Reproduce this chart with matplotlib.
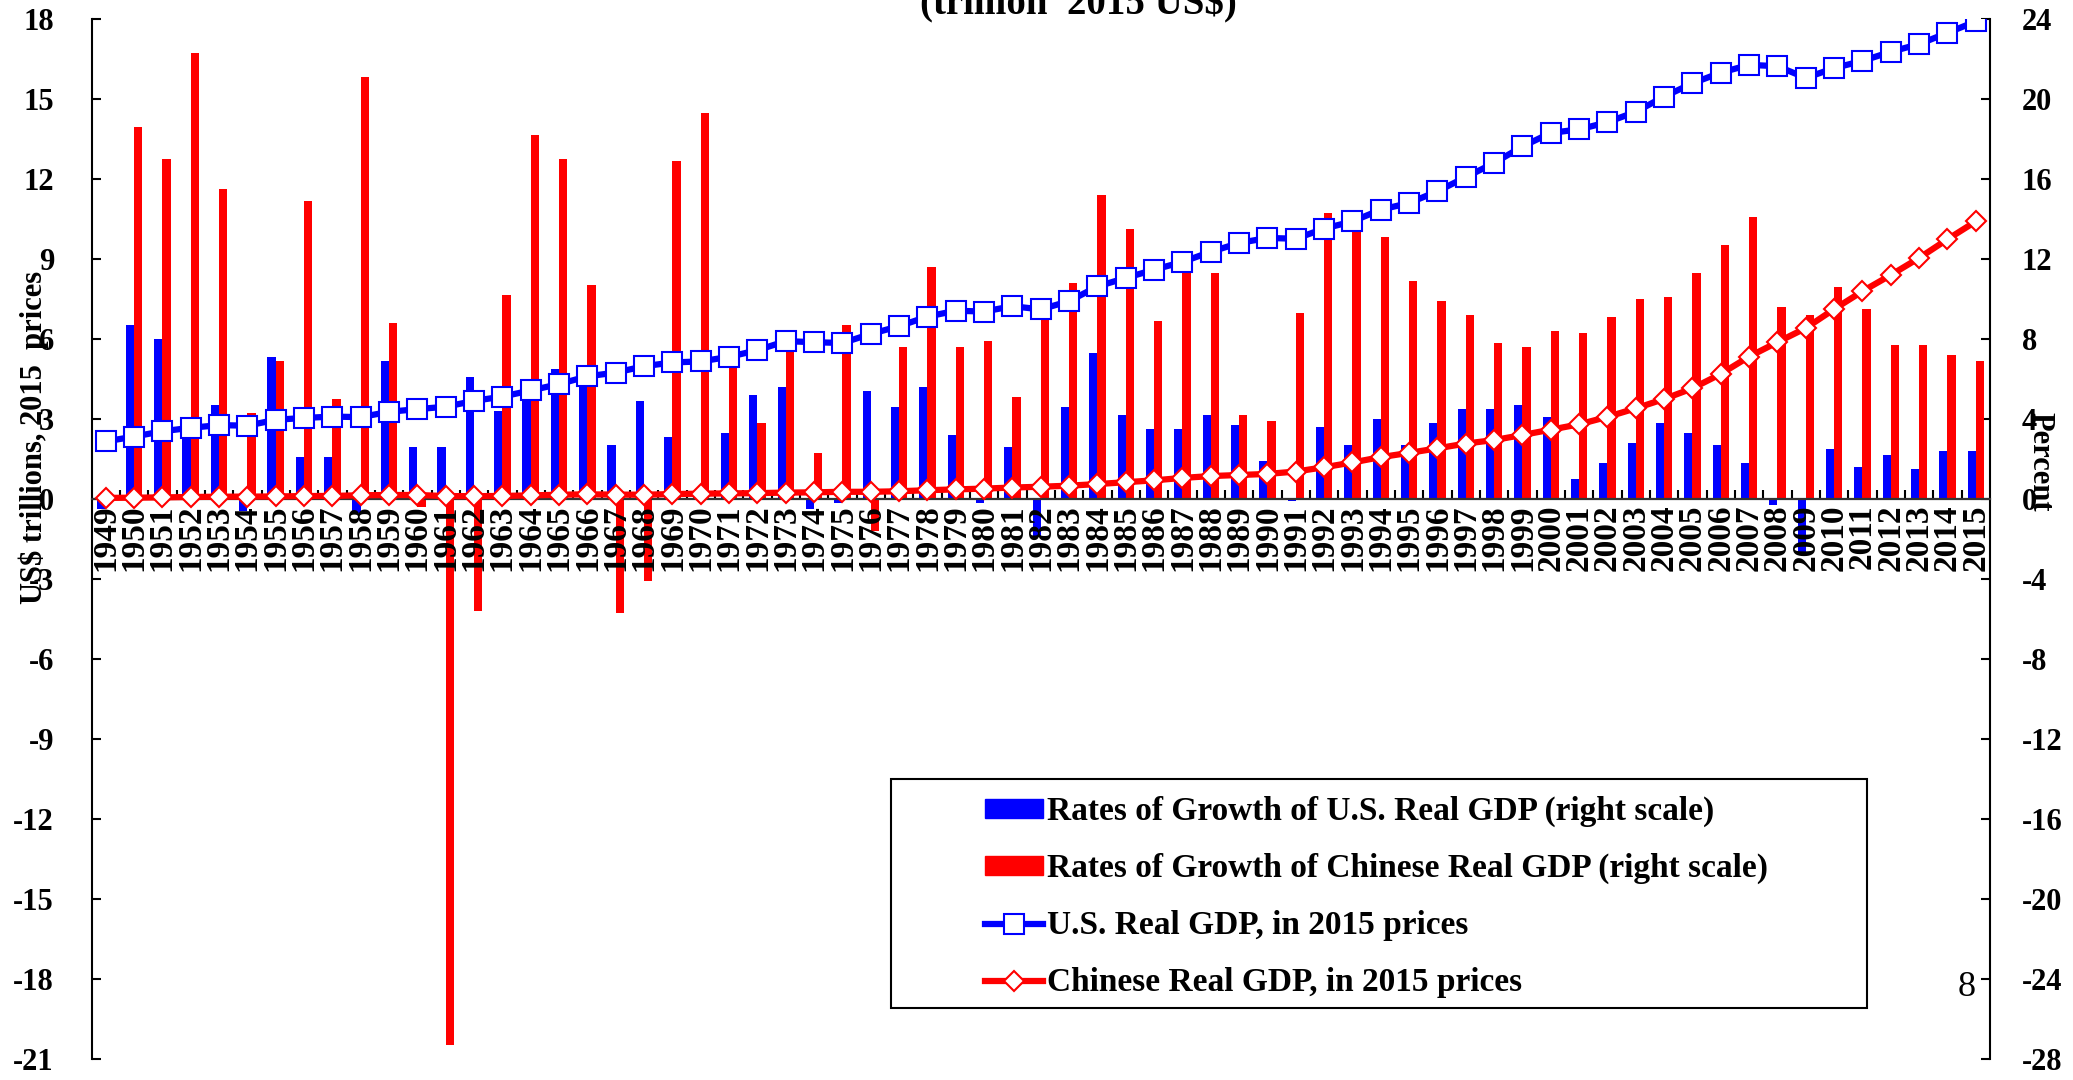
import numpy as np
import matplotlib
matplotlib.use("Agg")
import matplotlib.pyplot as plt
from matplotlib.patches import Patch, Rectangle
from matplotlib.lines import Line2D

plt.rcParams['font.family'] = ['Liberation Serif', 'DejaVu Serif']
plt.rcParams['font.weight'] = 'bold'

years = list(range(1949, 2016))

us_growth = [-0.5, 8.7, 8.0, 4.1, 4.7, -0.6, 7.1, 2.1, 2.1, -0.7,
             6.9, 2.6, 2.6, 6.1, 4.4, 5.8, 6.5, 6.6, 2.7, 4.9,
             3.1, 0.2, 3.3, 5.2, 5.6, -0.5, -0.2, 5.4, 4.6, 5.6,
             3.2, -0.2, 2.6, -1.9, 4.6, 7.3, 4.2, 3.5, 3.5, 4.2,
             3.7, 1.9, -0.1, 3.6, 2.7, 4.0, 2.7, 3.8, 4.5, 4.5,
             4.7, 4.1, 1.0, 1.8, 2.8, 3.8, 3.3, 2.7, 1.8, -0.3,
             -2.8, 2.5, 1.6, 2.2, 1.5, 2.4, 2.4]

cn_growth = [np.nan, 18.6, 17.0, 22.3, 15.5, 4.3, 6.9, 14.9, 5.0, 21.1,
             8.8, -0.4, -27.3, -5.6, 10.2, 18.2, 17.0, 10.7, -5.7, -4.1,
             16.9, 19.3, 7.1, 3.8, 7.8, 2.3, 8.7, -1.6, 7.6, 11.6,
             7.6, 7.9, 5.1, 9.0, 10.8, 15.2, 13.5, 8.9, 11.7, 11.3,
             4.2, 3.9, 9.3, 14.3, 13.9, 13.1, 10.9, 9.9, 9.2, 7.8,
             7.6, 8.4, 8.3, 9.1, 10.0, 10.1, 11.3, 12.7, 14.1, 9.6,
             9.2, 10.6, 9.5, 7.7, 7.7, 7.2, 6.9]

us_gdp = [2.16, 2.34, 2.54, 2.67, 2.77, 2.75, 2.97, 3.04, 3.09, 3.07,
          3.27, 3.37, 3.46, 3.68, 3.84, 4.07, 4.31, 4.60, 4.74, 4.98,
          5.12, 5.16, 5.33, 5.58, 5.92, 5.88, 5.85, 6.19, 6.48, 6.84,
          7.06, 7.03, 7.23, 7.11, 7.42, 7.97, 8.29, 8.60, 8.89, 9.27,
          9.60, 9.79, 9.76, 10.14, 10.41, 10.85, 11.10, 11.54, 12.07, 12.60,
          13.22, 13.73, 13.86, 14.13, 14.52, 15.09, 15.59, 15.99, 16.28, 16.23,
          15.79, 16.16, 16.43, 16.77, 17.06, 17.48, 17.91]

cn_gdp = [0.04, 0.05, 0.06, 0.075, 0.085, 0.09, 0.095, 0.11, 0.115, 0.14,
          0.15, 0.15, 0.11, 0.105, 0.115, 0.135, 0.16, 0.175, 0.165, 0.16,
          0.185, 0.20, 0.21, 0.22, 0.24, 0.25, 0.27, 0.27, 0.29, 0.33,
          0.36, 0.39, 0.43, 0.46, 0.50, 0.56, 0.63, 0.70, 0.79, 0.86,
          0.90, 0.94, 1.03, 1.19, 1.37, 1.57, 1.73, 1.90, 2.08, 2.21,
          2.40, 2.60, 2.80, 3.08, 3.40, 3.75, 4.15, 4.69, 5.34, 5.88,
          6.41, 7.12, 7.79, 8.40, 9.04, 9.74, 10.41]

left_ticks = list(range(-21, 19, 3))
right_ticks = list(range(-28, 25, 4))

BLUE = '#0000FF'
RED = '#FF0000'

W, H = 2073, 1080
fig = plt.figure(figsize=(W / 100, H / 100), dpi=100)

ax = fig.add_axes([91.5 / W, 21 / H, (1990 - 91.5) / W, (1059 - 19) / H])
ax2 = ax.twinx()
ax.set_zorder(ax2.get_zorder() + 1)
ax.patch.set_visible(False)

x = np.arange(len(years))
bw = 0.29
ax2.bar(x - bw / 2, us_growth, width=bw, color=BLUE, zorder=2)
ax2.bar(x + bw / 2, cn_growth, width=bw, color=RED, zorder=2)

ax.plot(x, us_gdp, color=BLUE, lw=4.5, marker='s', markersize=14.5,
        markerfacecolor='white', markeredgecolor=BLUE, markeredgewidth=1.5, zorder=3)
ax.plot(x, cn_gdp, color=RED, lw=4.5, marker='D', markersize=10.5,
        markerfacecolor='white', markeredgecolor=RED, markeredgewidth=1.5, zorder=4)

ax.set_xlim(-0.5, len(years) - 0.5)
ax.set_ylim(-21, 18)
ax2.set_ylim(-28, 24)

for a in (ax, ax2):
    a.spines['top'].set_visible(False)
ax2.spines['bottom'].set_visible(False)
ax2.spines['left'].set_visible(False)
ax.spines['right'].set_visible(False)
ax.spines['bottom'].set_position(('data', 0))
ax.spines['bottom'].set_color('#333333')
ax.spines['bottom'].set_linewidth(1.6)
ax.spines['left'].set_linewidth(1.5)
ax2.spines['right'].set_linewidth(1.5)

ax.set_yticks(left_ticks)
ax.set_yticklabels([str(t) for t in left_ticks])
ax2.set_yticks(right_ticks)
ax2.set_yticklabels([str(t) for t in right_ticks])
ax.tick_params(axis='y', direction='in', length=6.5, width=1.5, labelsize=22, pad=27)
ax2.tick_params(axis='y', direction='in', length=6.5, width=1.5, labelsize=22, pad=23)

ax.set_xticks(np.arange(0.5, len(years) - 1, 1.0))
ax.set_xticklabels([])
ax.set_xticks(x, minor=True)
ax.set_xticklabels([str(y) for y in years], minor=True, rotation=90, fontsize=24,
                   fontweight='bold')
ax.tick_params(axis='x', which='major', direction='in', length=6.5, width=1.5)
ax.tick_params(axis='x', which='minor', length=0, pad=4)

fig.text(1078 / W, 1 - 14 / H, '(trillion  2015 US$)', ha='center', va='baseline',
         fontsize=28, fontweight='bold')
fig.text(34 / W, 1 - 437 / H, 'US$ trillions, 2015  prices', rotation=90,
         ha='center', va='center', fontsize=22, fontweight='bold')
fig.text(2040 / W, 1 - 462 / H, 'Percent', rotation=270,
         ha='center', va='center', fontsize=22, fontweight='bold')
fig.text(1967 / W, 1 - 987 / H, '8', ha='center', va='center',
         fontsize=26, fontweight='normal')

# legend frame
fig.patches.append(Rectangle((891 / W, 1 - 1008 / H), (1867 - 891) / W, (1008 - 779) / H,
                             transform=fig.transFigure, fill=False,
                             edgecolor='black', linewidth=1.5))

handles = [
    Patch(facecolor=BLUE, edgecolor=BLUE),
    Patch(facecolor=RED, edgecolor=RED),
    Line2D([], [], color=BLUE, lw=4.5, marker='s', markersize=14.5,
           markerfacecolor='white', markeredgecolor=BLUE, markeredgewidth=1.5),
    Line2D([], [], color=RED, lw=4.5, marker='D', markersize=10.5,
           markerfacecolor='white', markeredgecolor=RED, markeredgewidth=1.5),
]
labels = ['Rates of Growth of U.S. Real GDP (right scale)',
          'Rates of Growth of Chinese Real GDP (right scale)',
          'U.S. Real GDP, in 2015 prices',
          'Chinese Real GDP, in 2015 prices']
leg = fig.legend(handles, labels, loc='upper left',
                 bbox_to_anchor=(985 / W, 1 - 796 / H), frameon=False,
                 prop={'size': 24, 'weight': 'bold'}, borderpad=0, borderaxespad=0,
                 handlelength=1.75, handleheight=0.5, handletextpad=0.12,
                 labelspacing=0.78, numpoints=1)

fig.savefig('out.png', dpi=100)
